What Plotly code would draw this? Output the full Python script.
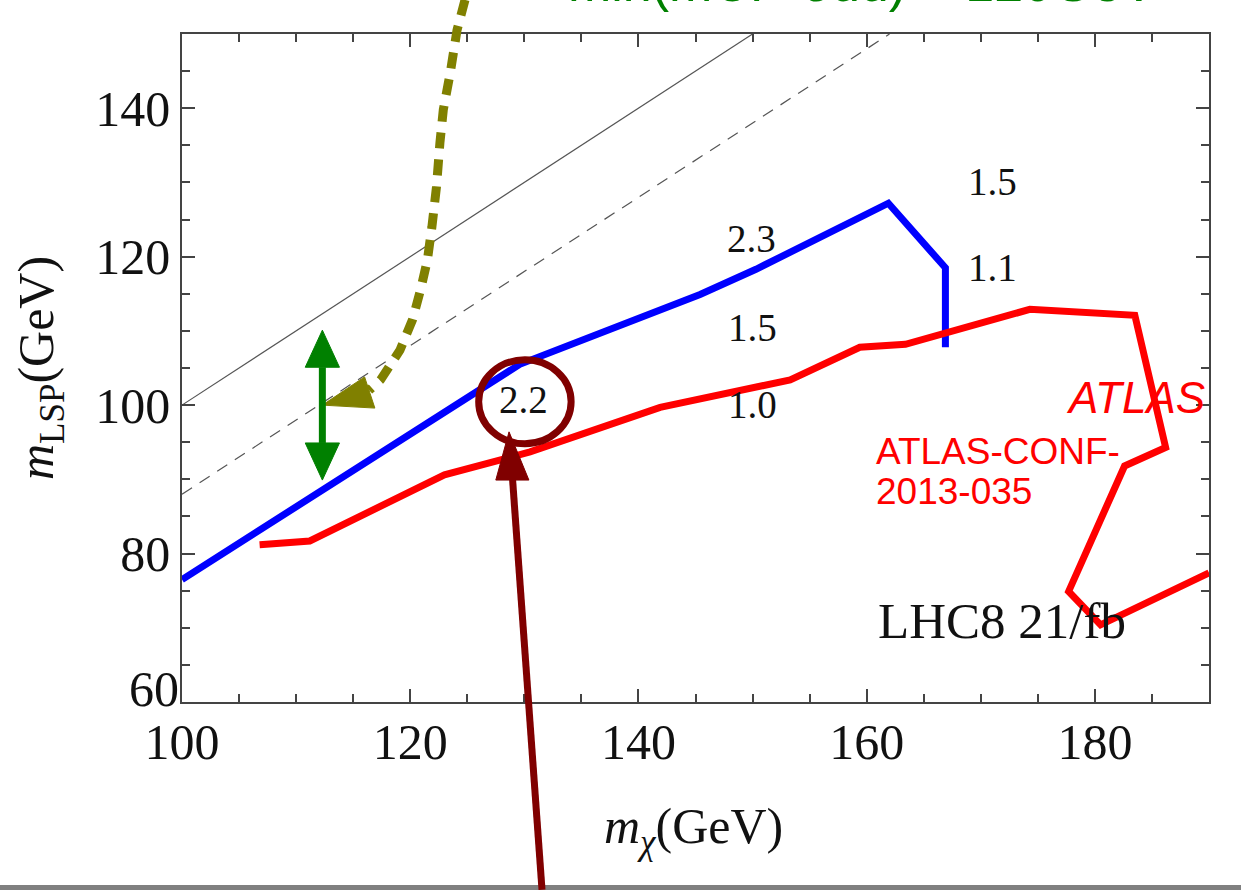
import plotly.graph_objects as go

# ---------------- data ----------------
blue_x = [100.0, 129.6, 145.4, 150.3, 161.9, 166.9, 166.9]
blue_y = [76.5, 105.5, 114.9, 118.3, 127.2, 118.5, 107.8]

red_x = [106.8, 111.2, 123.0, 130.5, 141.9, 153.3, 159.4, 163.4, 174.3, 183.5, 186.2, 182.6, 177.7, 180.5, 190.0]
red_y = [81.2, 81.7, 90.6, 93.7, 99.7, 103.4, 107.8, 108.2, 112.9, 112.1, 94.3, 91.8, 74.9, 70.4, 77.4]

diag_x = [100, 150]          # m_LSP = m_chi
diag_y = [100, 150]
diag2_x = [100, 162]         # m_LSP = m_chi - 12
diag2_y = [88, 150]

label_text = ["2.3", "1.5", "1.0", "2.2", "1.5", "1.1"]
label_x = [149.9, 150.0, 150.0, 129.9, 171.0, 171.0]
label_y = [122.5, 110.5, 100.1, 100.7, 130.1, 118.5]

x_tickvals = [100, 120, 140, 160, 180]
x_ticktext = ["100", "120", "140", "160", "180"]
y_tickvals = [60, 80, 100, 120, 140]
y_ticktext = ["", "80", "100", "120", "140"]   # "60" drawn separately, nudged up as in the original
y_first_label = "60"

# olive dashed guide curve (data units)
olive_x = [124.8, 124.1, 123.5, 122.9, 122.6, 122.3, 121.9, 121.5, 120.9, 120.2, 119.1, 117.4, 116.4]
olive_y = [154.6, 150.5, 144.7, 139.8, 135.3, 129.4, 124.0, 119.5, 115.5, 111.5, 107.4, 103.4, 102.0]
olive_head_x = [112.3, 116.0, 116.9]
olive_head_y = [100.0, 103.8, 99.6]

green_x = 112.3
green_y = [89.9, 94.9, 105.1, 110.1]   # bottom tip, bottom base, top base, top tip

ellipse_x = [126.0, 134.1]
ellipse_y = [94.8, 106.1]

darkred_tail = (131.55, 34.7)
darkred_tip = (128.66, 96.4)
darkred_base_y = 89.9
darkred_base_x = [127.5, 130.4]

XR = [100, 190]
YR = [60, 150]

# ---------------- layout geometry ----------------
W, H = 1241, 890
ML, MR, MT, MB = 182, 32, 34, 188
PW, PH = W - ML - MR, H - MT - MB


def ppx(x):
    return (x - XR[0]) / (XR[1] - XR[0])


def ppy(y):
    return (y - YR[0]) / (YR[1] - YR[0])


def pix_x(p):
    return (p - ML) / PW


def pix_y(p):
    return (H - MB - p) / PH


serif = "Liberation Serif, Times New Roman, serif"
sans = "Liberation Sans, Arial, sans-serif"

fig = go.Figure()

fig.add_trace(go.Scatter(x=diag_x, y=diag_y, mode="lines",
                         line=dict(color="#555555", width=1.2), hoverinfo="skip"))
fig.add_trace(go.Scatter(x=diag2_x, y=diag2_y, mode="lines",
                         line=dict(color="#555555", width=1.2, dash="12px,9px"), hoverinfo="skip"))
fig.add_trace(go.Scatter(x=blue_x, y=blue_y, mode="lines",
                         line=dict(color="#0000ff", width=7), hoverinfo="skip"))
fig.add_trace(go.Scatter(x=red_x, y=red_y, mode="lines",
                         line=dict(color="#ff0000", width=7), hoverinfo="skip"))

shapes = []
# gray bar at the bottom of the page
shapes.append(dict(type="rect", xref="paper", yref="paper",
                   x0=pix_x(0), x1=pix_x(W), y0=pix_y(885), y1=pix_y(892),
                   fillcolor="#808080", line=dict(width=0), layer="above"))

# olive dashed curve
path = "M " + " L ".join(f"{ppx(a):.5f},{ppy(b):.5f}" for a, b in zip(olive_x, olive_y))
shapes.append(dict(type="path", xref="paper", yref="paper", path=path,
                   line=dict(color="#808000", width=9, dash="16px,11px")))
path = "M " + " L ".join(f"{ppx(a):.5f},{ppy(b):.5f}" for a, b in zip(olive_head_x, olive_head_y)) + " Z"
shapes.append(dict(type="path", xref="paper", yref="paper", path=path,
                   fillcolor="#808000", line=dict(color="#808000", width=1)))

# green double arrow
hw = 1.5
shapes.append(dict(type="line", xref="paper", yref="paper",
                   x0=ppx(green_x), x1=ppx(green_x), y0=ppy(green_y[1]), y1=ppy(green_y[2]),
                   line=dict(color="#008000", width=7)))
for tip, base in [(green_y[0], green_y[1]), (green_y[3], green_y[2])]:
    p = (f"M {ppx(green_x):.5f},{ppy(tip):.5f} L {ppx(green_x - hw):.5f},{ppy(base):.5f} "
         f"L {ppx(green_x + hw):.5f},{ppy(base):.5f} Z")
    shapes.append(dict(type="path", xref="paper", yref="paper", path=p,
                       fillcolor="#008000", line=dict(color="#008000", width=1)))

# dark red ellipse
shapes.append(dict(type="circle", xref="paper", yref="paper",
                   x0=ppx(ellipse_x[0]), x1=ppx(ellipse_x[1]),
                   y0=ppy(ellipse_y[0]), y1=ppy(ellipse_y[1]),
                   line=dict(color="#800000", width=7)))

# dark red arrow
bx = (darkred_base_x[0] + darkred_base_x[1]) / 2
shapes.append(dict(type="line", xref="paper", yref="paper",
                   x0=ppx(darkred_tail[0]), y0=ppy(darkred_tail[1]),
                   x1=ppx(bx), y1=ppy(darkred_base_y + 0.5),
                   line=dict(color="#800000", width=7)))
p = (f"M {ppx(darkred_tip[0]):.5f},{ppy(darkred_tip[1]):.5f} "
     f"L {ppx(darkred_base_x[0]):.5f},{ppy(darkred_base_y):.5f} "
     f"L {ppx(darkred_base_x[1]):.5f},{ppy(darkred_base_y):.5f} Z")
shapes.append(dict(type="path", xref="paper", yref="paper", path=p,
                   fillcolor="#800000", line=dict(color="#800000", width=1)))

annotations = []
for t, x, y in zip(label_text, label_x, label_y):
    annotations.append(dict(x=x, y=y, xref="x", yref="y", text=t, showarrow=False,
                            xanchor="center", yanchor="middle",
                            font=dict(family=serif, size=39, color="#111111")))

annotations.append(dict(x=171.9, y=70.9, xref="x", yref="y", text="LHC8 21/fb", showarrow=False,
                        xanchor="center", yanchor="middle",
                        font=dict(family=serif, size=51, color="#111111")))
annotations.append(dict(x=183.6, y=101.0, xref="x", yref="y", text="<i>ATLAS</i>", showarrow=False,
                        xanchor="center", yanchor="middle",
                        font=dict(family=sans, size=44, color="#ff0000")))
annotations.append(dict(x=160.6, y=93.7, xref="x", yref="y", text="ATLAS-CONF-", showarrow=False,
                        xanchor="left", yanchor="middle",
                        font=dict(family=sans, size=37, color="#ff0000")))
annotations.append(dict(x=160.6, y=88.3, xref="x", yref="y", text="2013-035", showarrow=False,
                        xanchor="left", yanchor="middle",
                        font=dict(family=sans, size=37, color="#ff0000")))

# first y tick label, nudged up and right like the original
annotations.append(dict(x=pix_x(181), y=pix_y(689), xref="paper", yref="paper",
                        text=y_first_label, showarrow=False, xanchor="right", yanchor="middle",
                        font=dict(family=serif, size=50, color="#111111")))

# axis titles
annotations.append(dict(x=pix_x(693), y=pix_y(830), xref="paper", yref="paper",
                        text="<i>m</i><sub><i>χ</i></sub>(GeV)", showarrow=False,
                        xanchor="center", yanchor="middle",
                        font=dict(family=serif, size=50, color="#111111")))
annotations.append(dict(x=pix_x(40), y=pix_y(368), xref="paper", yref="paper",
                        text="<i>m</i><sub>LSP</sub>(GeV)", showarrow=False, textangle=-90,
                        xanchor="center", yanchor="middle",
                        font=dict(family=serif, size=50, color="#111111")))

# green text cut at the top of the page
annotations.append(dict(x=pix_x(862), y=pix_y(14), xref="paper", yref="paper",
                        text="min(mCP-odd) ~ 120GeV", showarrow=False,
                        xanchor="center", yanchor="bottom",
                        font=dict(family=sans, size=52, color="#008000")))

axis_common = dict(showgrid=False, zeroline=False, showline=True, linecolor="#444444", linewidth=1.5,
                   ticks="inside", ticklen=13, tickwidth=1.5, tickcolor="#444444", mirror="ticks",
                   tickfont=dict(family=serif, size=50, color="#111111"),
                   minor=dict(dtick=5, ticks="inside", ticklen=8, tickwidth=1.5, tickcolor="#444444",
                              showgrid=False))

fig.update_layout(
    width=W, height=H,
    margin=dict(l=ML, r=MR, t=MT, b=MB, pad=0),
    paper_bgcolor="white", plot_bgcolor="white",
    showlegend=False,
    xaxis=dict(range=XR, tickmode="array", tickvals=x_tickvals, ticktext=x_ticktext,
               ticklabelstandoff=-5, **axis_common),
    yaxis=dict(range=YR, tickmode="array", tickvals=y_tickvals, ticktext=y_ticktext,
               **axis_common),
    shapes=shapes,
    annotations=annotations,
)

fig.write_html("out.html")
